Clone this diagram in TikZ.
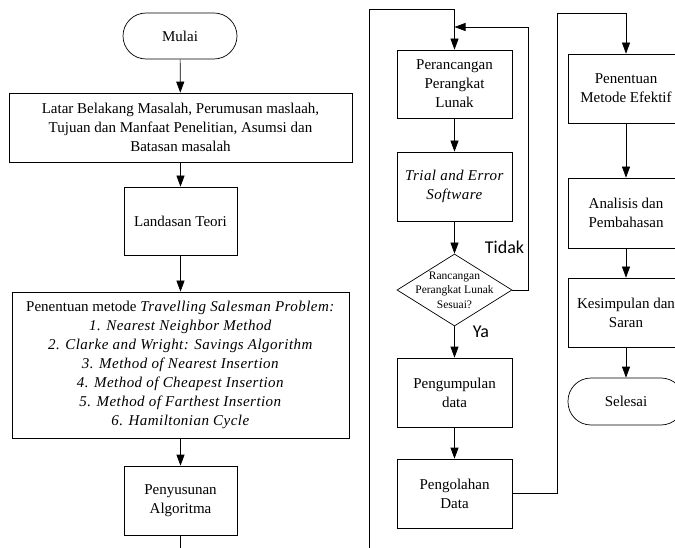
\documentclass[tikz,border=0pt]{standalone}
\usepackage{fontspec}
\setmainfont{Liberation Serif}[ItalicFeatures={LetterSpace=3}]
\newfontfamily\labfont{Carlito}
\usetikzlibrary{shapes.geometric,arrows.meta}
\begin{document}
\begin{tikzpicture}[x=1pt,y=1pt,
  every node/.style={font=\fontsize{15}{19}\selectfont},
  box/.style={draw,align=center,inner sep=0pt,line width=0.7pt},
  term/.style={box,rounded corners=23pt},
  lab/.style={font=\labfont\fontsize{18}{20}\selectfont},
  arr/.style={-{Triangle[length=11pt,width=8pt]},line width=0.7pt},
  ln/.style={line width=0.7pt}]
\useasboundingbox (0,0) rectangle (675,-548);
\clip (0,0) rectangle (675,-548);
% left column
\node[term,minimum width=114,minimum height=46] (mulai) at (180,-36) {Mulai};
\node[box,minimum width=343,minimum height=69] (latar) at (180.5,-127.5)
  {Latar Belakang Masalah, Perumusan maslaah,\\Tujuan dan Manfaat Penelitian, Asumsi dan\\Batasan masalah};
\node[box,minimum width=113,minimum height=68] (landasan) at (180.5,-221) {Landasan Teori};
\node[box,minimum width=337,minimum height=146] (metode) at (180.5,-365)
  {Penentuan metode \textit{Travelling Salesman Problem:}\\
   \textit{1. Nearest Neighbor Method}\\
   \textit{2. Clarke and Wright: Savings Algorithm}\\
   \textit{3. Method of Nearest Insertion}\\
   \textit{4. Method of Cheapest Insertion}\\
   \textit{5. Method of Farthest Insertion}\\
   \textit{6. Hamiltonian Cycle}};
\node[box,minimum width=113,minimum height=69] (penyusunan) at (180.5,-500.5) {Penyusunan\\Algoritma};
\coordinate (leftend) at (180.5,-548);
% middle column
\node[box,minimum width=115,minimum height=68] (perancangan) at (454.5,-84) {Perancangan\\Perangkat\\Lunak};
\node[box,minimum width=115,minimum height=69] (trial) at (454.5,-186.5) {\textit{Trial and Error}\\\textit{Software}};
\node[draw,diamond,line width=0.7pt,inner sep=0pt,minimum width=115,minimum height=72] (sesuai) at (454.5,-290) {};
\node[align=center,inner sep=0pt,font=\fontsize{11.5}{14.5}\selectfont] (sesuaitext) at (sesuai.center) {Rancangan\\Perangkat Lunak\\Sesuai?};
\node[box,minimum width=115,minimum height=69] (pengumpulan) at (454.5,-392.5) {Pengumpulan\\data};
\node[box,minimum width=115,minimum height=69] (pengolahan) at (454.5,-493.5) {Pengolahan\\Data};
\coordinate (midstart) at (369,-548);
\coordinate (midtop) at (369,-9);
\coordinate (midturn) at (454.5,-9);
\coordinate (loopjoin) at (454.5,-27);
% right column
\node[box,minimum width=116,minimum height=69] (penentuan) at (626,-88.5) {Penentuan\\Metode Efektif};
\node[box,minimum width=116,minimum height=70] (analisis) at (626,-213) {Analisis dan\\Pembahasan};
\node[box,minimum width=116,minimum height=69] (kesimpulan) at (626,-312.5) {Kesimpulan dan\\Saran};
\node[term,minimum width=116,minimum height=47] (selesai) at (626,-401.5) {Selesai};
% labels
\node[lab] (tidak) at (504.5,-247) {Tidak};
\node[lab] (ya) at (481,-332) {Ya};
% connectors
\draw[arr] (mulai) -- (latar);
\draw[arr] (latar) -- (landasan);
\draw[arr] (landasan) -- (metode);
\draw[arr] (metode) -- (penyusunan);
\draw[ln] (penyusunan) -- (leftend);
\draw[arr] (midstart) -- (midtop) -- (midturn) -- (perancangan.north);
\draw[arr] (perancangan) -- (trial);
\draw[arr] (trial) -- (sesuai.north);
\draw[arr] (sesuai.east) -- (528,-290) -- (528,-27) -- (loopjoin);
\draw[arr] (sesuai.south) -- (pengumpulan);
\draw[arr] (pengumpulan) -- (pengolahan);
\draw[arr] (pengolahan.east) -- (557,-493.5) -- (557,-13) -- (626,-13) -- (penentuan.north);
\draw[arr] (penentuan) -- (analisis);
\draw[arr] (analisis) -- (kesimpulan);
\draw[arr] (kesimpulan) -- (selesai);
\end{tikzpicture}
\end{document}
